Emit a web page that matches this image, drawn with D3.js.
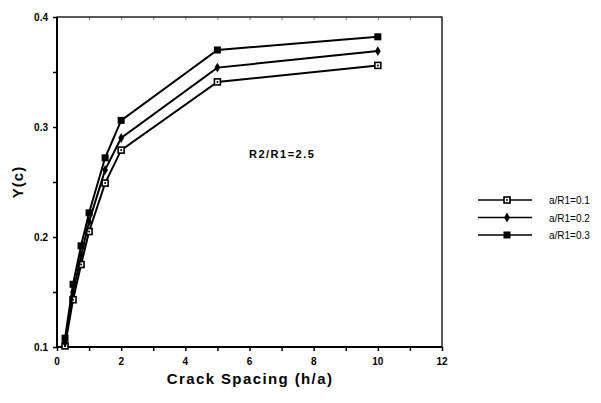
<!DOCTYPE html>
<html>
<head>
<meta charset="utf-8">
<script src="https://cdn.jsdelivr.net/npm/d3@7"></script>
<style>
  body { margin: 0; background: #fff; }
  text { font-family: "Liberation Sans", Arial, sans-serif; fill: #000; }
</style>
</head>
<body>
<svg id="chart" width="601" height="403"></svg>
<script>
// crack spacing values (h/a)
var spacing = [0.25, 0.5, 0.75, 1, 1.5, 2, 5, 10];
var seriesNames = ["a/R1=0.1", "a/R1=0.2", "a/R1=0.3"];
var y01 = [0.101, 0.143, 0.175, 0.205, 0.249, 0.279, 0.341, 0.356];
var y02 = [0.104, 0.150, 0.183, 0.214, 0.261, 0.290, 0.354, 0.369];
var y03 = [0.108, 0.157, 0.192, 0.222, 0.272, 0.306, 0.370, 0.382];
var xTicks = [0, 2, 4, 6, 8, 10, 12];
var yTicks = [0.1, 0.2, 0.3, 0.4];

var series = [
    {name: seriesNames[0], values: y01, marker: "open"},
    {name: seriesNames[1], values: y02, marker: "diamond"},
    {name: seriesNames[2], values: y03, marker: "square"}
];

var margin = {top: 17, right: 159, bottom: 56, left: 57},
    width = 601 - margin.left - margin.right,
    height = 403 - margin.top - margin.bottom;

var svg = d3.select("#chart"),
    g = svg.append("g")
        .attr("transform", "translate(" + margin.left + "," + margin.top + ")");

var x = d3.scaleLinear().domain([0, 12]).range([0, width]);
var y = d3.scaleLinear().domain([0.1, 0.4]).range([height, 0]);

// frame
g.append("rect")
    .attr("width", width).attr("height", height)
    .attr("fill", "none").attr("stroke", "#000").attr("stroke-width", 1.3);
g.append("line")
    .attr("x1", 0).attr("x2", 0).attr("y1", 0).attr("y2", height)
    .attr("stroke", "#000").attr("stroke-width", 2);
g.append("line")
    .attr("x1", 0).attr("x2", width).attr("y1", height).attr("y2", height)
    .attr("stroke", "#000").attr("stroke-width", 2);

// minor ticks
var xAxis = g.append("g")
    .attr("transform", "translate(0," + height + ")")
    .call(d3.axisBottom(x).tickValues(d3.range(0, 13, 1)).tickSize(4).tickFormat(""));
var yAxis = g.append("g")
    .call(d3.axisLeft(y).tickValues(d3.range(0.1, 0.401, 0.05)).tickSize(4).tickFormat(""));
g.append("g")
    .call(d3.axisTop(x).tickValues(d3.range(1, 12, 1)).tickSize(-3).tickFormat(""))
    .attr("opacity", 0.5);
[xAxis, yAxis].forEach(function(a) {
    a.selectAll("line").attr("stroke-width", 1.5);
});
g.selectAll(".domain").remove();

// tick labels
g.selectAll(".xlab").data(xTicks).enter().append("text")
    .attr("x", function(d) { return x(d); })
    .attr("y", height + 18)
    .attr("text-anchor", "middle")
    .style("font-size", "10px").style("font-weight", "bold")
    .text(function(d) { return d; });
g.selectAll(".ylab").data(yTicks).enter().append("text")
    .attr("x", -9)
    .attr("y", function(d) { return y(d) + 4; })
    .attr("text-anchor", "end")
    .style("font-size", "10px").style("font-weight", "bold")
    .text(function(d) { return d.toFixed(1); });

// axis titles
svg.append("text")
    .attr("x", 250).attr("y", 384)
    .attr("text-anchor", "middle")
    .style("font-size", "15px").style("font-weight", "bold")
    .style("letter-spacing", "1.4px")
    .text("Crack  Spacing  (h/a)");
svg.append("text")
    .attr("transform", "translate(23,182) rotate(-90)")
    .attr("text-anchor", "middle")
    .style("font-size", "15px").style("font-weight", "bold")
    .style("letter-spacing", "1px")
    .text("Y(c)");

g.append("text")
    .attr("x", 192).attr("y", 141)
    .style("font-size", "11px").style("font-weight", "bold")
    .style("letter-spacing", "1.5px")
    .text("R2/R1=2.5");

var line = d3.line()
    .x(function(d, i) { return x(spacing[i]); })
    .y(function(d) { return y(d); });

function drawMarker(sel, type) {
    if (type === "diamond") {
        sel.append("path")
            .attr("d", d3.symbol().type(d3.symbolDiamond).size(28))
            .attr("fill", "#000");
    } else if (type === "square") {
        sel.append("rect")
            .attr("x", -3.5).attr("y", -3.5).attr("width", 7).attr("height", 7)
            .attr("fill", "#000");
    } else {
        sel.append("rect")
            .attr("x", -3).attr("y", -3).attr("width", 6).attr("height", 6)
            .attr("fill", "#fff").attr("stroke", "#000").attr("stroke-width", 1.6);
        sel.append("circle").attr("r", 1).attr("fill", "#000");
    }
}

series.forEach(function(s) {
    g.append("path")
        .datum(s.values)
        .attr("d", line)
        .attr("fill", "none").attr("stroke", "#000").attr("stroke-width", 2);
    g.selectAll(".pt-" + s.marker)
        .data(s.values).enter().append("g")
        .attr("transform", function(d, i) {
            return "translate(" + x(spacing[i]) + "," + y(d) + ")";
        })
        .each(function() { drawMarker(d3.select(this), s.marker); });
});

// legend
var legend = svg.append("g").attr("transform", "translate(478,200)");
series.forEach(function(s, i) {
    var row = legend.append("g").attr("transform", "translate(0," + (i * 17.5) + ")");
    row.append("line")
        .attr("x1", 0).attr("x2", 54)
        .attr("stroke", "#000").attr("stroke-width", 1.5);
    var m = row.append("g").attr("transform", "translate(29,0)");
    drawMarker(m, s.marker);
    row.append("text")
        .attr("x", 71).attr("y", 4)
        .style("font-size", "10px")
        .text(s.name);
});
</script>
</body>
</html>
